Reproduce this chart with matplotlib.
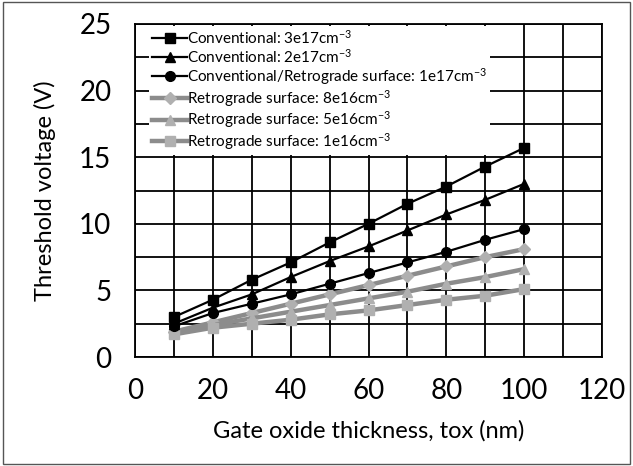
import matplotlib.pyplot as plt
import matplotlib.patches as mpatches

plt.rcParams['font.family'] = ['Lato', 'DejaVu Sans']
plt.rcParams['mathtext.fontset'] = 'custom'
plt.rcParams['mathtext.rm'] = 'Lato'
plt.rcParams['mathtext.it'] = 'Lato'

tox = [10, 20, 30, 40, 50, 60, 70, 80, 90, 100]
conv_3e17 = [3.0, 4.3, 5.8, 7.1, 8.6, 10.0, 11.5, 12.8, 14.3, 15.7]
conv_2e17 = [2.5, 3.7, 4.7, 6.0, 7.2, 8.3, 9.5, 10.7, 11.8, 13.0]
conv_1e17 = [2.3, 3.3, 4.0, 4.7, 5.5, 6.3, 7.1, 7.9, 8.8, 9.6]
retro_8e16 = [1.9, 2.6, 3.3, 4.0, 4.7, 5.4, 6.1, 6.8, 7.5, 8.1]
retro_5e16 = [1.9, 2.4, 2.9, 3.4, 3.9, 4.4, 4.9, 5.5, 6.0, 6.6]
retro_1e16 = [1.7, 2.2, 2.5, 2.8, 3.2, 3.5, 3.9, 4.3, 4.6, 5.1]

labels = [r'Conventional: 3e17cm$^{-3}$',
          r'Conventional: 2e17cm$^{-3}$',
          r'Conventional/Retrograde surface: 1e17cm$^{-3}$',
          r'Retrograde surface: 8e16cm$^{-3}$',
          r'Retrograde surface: 5e16cm$^{-3}$',
          r'Retrograde surface: 1e16cm$^{-3}$']

fig = plt.figure(figsize=(6.33, 4.66), dpi=100)
ax = fig.add_axes([135/633, 1-357/466, 467/633, 333/466])

ax.plot(tox, conv_3e17, color='black', lw=1.6, marker='s', ms=7.5, label=labels[0], zorder=5)
ax.plot(tox, conv_2e17, color='black', lw=1.6, marker='^', ms=7.5, label=labels[1], zorder=5)
ax.plot(tox, conv_1e17, color='black', lw=1.6, marker='o', ms=7, label=labels[2], zorder=5)
ax.plot(tox, retro_8e16, color='#8c8c8c', lw=3.2, marker='D', ms=6.5, mfc='#b0b0b0', mec='#b0b0b0',
        label=labels[3], zorder=4)
ax.plot(tox, retro_5e16, color='#8c8c8c', lw=3.2, marker='^', ms=7.5, mfc='#b0b0b0', mec='#b0b0b0',
        label=labels[4], zorder=4)
ax.plot(tox, retro_1e16, color='#8c8c8c', lw=3.2, marker='s', ms=7.5, mfc='#b0b0b0', mec='#b0b0b0',
        label=labels[5], zorder=4)

ax.set_xlim(0, 120)
ax.set_ylim(0, 25)
ax.set_xticks(range(0, 121, 20))
ax.set_yticks(range(0, 26, 5))
ax.set_xticks(range(10, 120, 10), minor=True)
ax.set_yticks([2.5, 7.5, 12.5, 17.5, 22.5], minor=True)
ax.grid(True, which='both', color='black', lw=1.3)
ax.set_axisbelow(True)
ax.tick_params(which='both', length=0, labelsize=20)
ax.tick_params(axis='x', pad=15)
ax.tick_params(axis='y', pad=17)
for s in ax.spines.values():
    s.set_linewidth(1.3)

ax.set_xlabel('Gate oxide thickness, tox (nm)', fontsize=17, va='center')
ax.set_ylabel('Threshold voltage (V)', fontsize=17, va='center')
ax.xaxis.set_label_coords(0.5, (357 - 431) / 333)
ax.yaxis.set_label_coords((45 - 135) / 467, 0.5)

leg = ax.legend(loc='upper left', bbox_to_anchor=(0.03, 0.995), fontsize=11,
                frameon=True, fancybox=False, edgecolor='none', framealpha=1,
                handlelength=2.3, handletextpad=0.0, labelspacing=0.05,
                borderpad=0.2, borderaxespad=0)
leg.set_zorder(10)

fig.patches.append(mpatches.Rectangle((0.004, 0.004), 0.992, 0.992, transform=fig.transFigure,
                                      fill=False, edgecolor='#555555', lw=1))

fig.savefig('out.png', dpi=100)
